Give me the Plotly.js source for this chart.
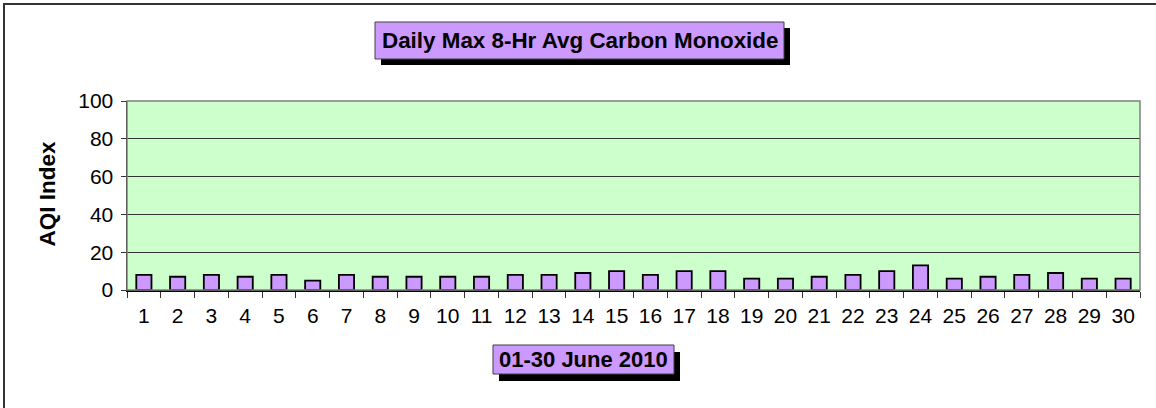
<!DOCTYPE html>
<html>
<head>
<meta charset="utf-8">
<script src="https://cdn.plot.ly/plotly-3.0.1.min.js"></script>
<style>
  html, body { margin: 0; padding: 0; background: #fff; }
  #wrap { position: relative; width: 1156px; height: 408px; overflow: hidden; }
  #frame { position: absolute; left: 3px; top: 3px; width: 1160px; height: 420px;
           border-top: 2px solid #333; border-left: 2px solid #333; pointer-events: none; z-index: 5; }
  #chart { position: absolute; left: 0; top: 0; width: 1156px; height: 408px; }
</style>
</head>
<body>
<div id="wrap">
  <div id="chart"></div>
  <div id="frame"></div>
</div>
<script>
const days = ["1","2","3","4","5","6","7","8","9","10","11","12","13","14","15",
              "16","17","18","19","20","21","22","23","24","25","26","27","28","29","30"];
const aqiValues = [8,7,8,7,8,5,8,7,7,7,7,8,8,9,10,8,10,10,6,6,7,8,10,13,6,7,8,9,6,6];
const yTicks = [0,20,40,60,80,100];
const chartTitle = "Daily Max 8-Hr Avg Carbon Monoxide";
const xTitle = "01-30 June 2010";
const yTitle = "AQI Index";

const W = 1156, H = 408;
const L = 127, R = 1140, T = 101, B = 290;
const pw = R - L, ph = B - T;
const px = x => (x - L) / pw;
const py = y => (B - y) / ph;

function boxShapes(x0, y0, x1, y1, dx, dy) {
  return [
    {type: 'rect', xref: 'paper', yref: 'paper', layer: 'above',
     x0: px(x0 + dx), x1: px(x1 + dx), y0: py(y1 + dy), y1: py(y0 + dy),
     fillcolor: '#000', line: {width: 0}},
    {type: 'rect', xref: 'paper', yref: 'paper', layer: 'above',
     x0: px(x0), x1: px(x1), y0: py(y1), y1: py(y0),
     fillcolor: '#CC99FF', line: {color: '#404040', width: 1}}
  ];
}

const font = "Liberation Sans, Arial, sans-serif";

const trace = {
  type: 'bar',
  x: days,
  y: aqiValues,
  marker: {color: '#CC99FF', line: {color: '#000', width: 1.8}},
  hoverinfo: 'x+y'
};

const shapes = [
  {type: 'rect', xref: 'paper', yref: 'paper', layer: 'above',
   x0: 0, x1: 1, y0: 0, y1: 1, line: {color: '#808080', width: 1.5}, fillcolor: 'rgba(0,0,0,0)'}
].concat(boxShapes(375, 22, 784, 59, 6, 6))
 .concat(boxShapes(493, 345, 674, 374, 6, 7));

const layout = {
  width: W, height: H,
  margin: {l: L, r: W - R, t: T, b: H - B, pad: 0},
  paper_bgcolor: '#fff',
  plot_bgcolor: '#CCFFCC',
  showlegend: false,
  bargap: 0.55,
  font: {family: font, color: '#000', size: 21},
  xaxis: {
    type: 'category',
    tickson: 'boundaries',
    ticks: 'outside', ticklen: 6, tickcolor: '#333', tickwidth: 1,
    showline: true, linecolor: '#000', linewidth: 1.5,
    showgrid: false, zeroline: false,
    tickfont: {family: font, size: 21, color: '#000'},
    ticklabelstandoff: 6,
    fixedrange: true
  },
  yaxis: {
    range: [0, 100],
    tickvals: yTicks,
    ticks: 'outside', ticklen: 5, tickcolor: '#333', tickwidth: 1,
    showline: true, linecolor: '#000', linewidth: 1.5,
    showgrid: true, gridcolor: '#333', gridwidth: 1,
    zeroline: false,
    tickfont: {family: font, size: 21, color: '#000'},
    ticklabelstandoff: 3,
    fixedrange: true
  },
  shapes: shapes,
  annotations: [
    {xref: 'paper', yref: 'paper', x: px(580), y: py(40.5), xanchor: 'center', yanchor: 'middle',
     text: '<b>' + chartTitle + '</b>', showarrow: false,
     font: {family: font, size: 22.4, color: '#000'}},
    {xref: 'paper', yref: 'paper', x: px(583.5), y: py(359.5), xanchor: 'center', yanchor: 'middle',
     text: '<b>' + xTitle + '</b>', showarrow: false,
     font: {family: font, size: 22, color: '#000'}},
    {xref: 'paper', yref: 'paper', x: px(47), y: py(193.5), xanchor: 'center', yanchor: 'middle',
     text: '<b>' + yTitle + '</b>', showarrow: false, textangle: -90,
     font: {family: font, size: 22.5, color: '#000'}}
  ]
};

Plotly.newPlot('chart', [trace], layout, {displayModeBar: false, staticPlot: true});
</script>
</body>
</html>
